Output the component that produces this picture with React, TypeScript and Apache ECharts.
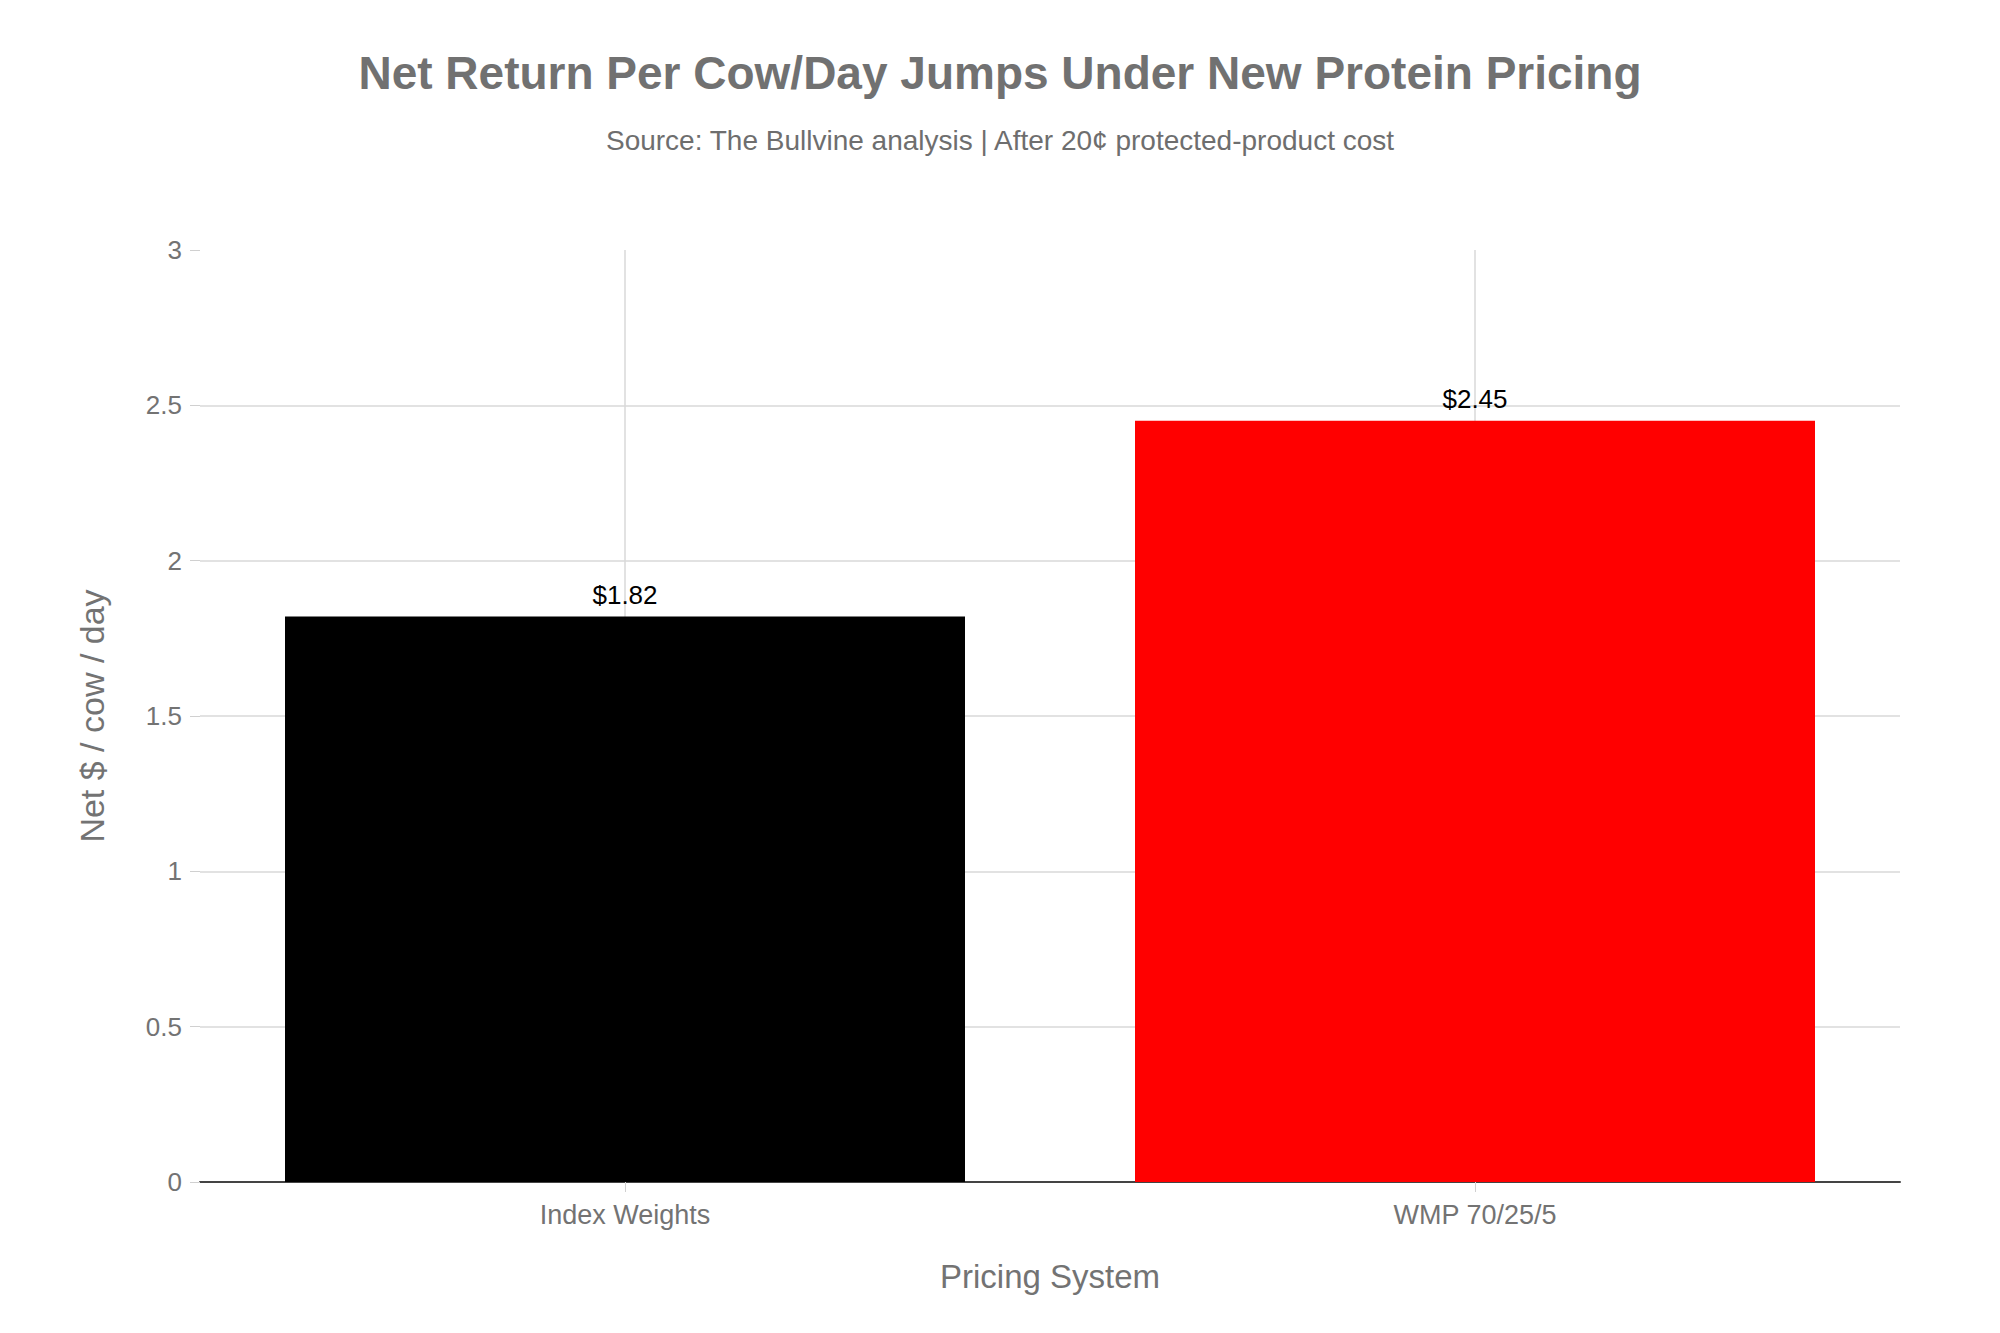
import React, { useEffect, useRef } from "react";
import * as echarts from "echarts";

const categories = ["Index Weights", "WMP 70/25/5"];
const values = [1.82, 2.45];
const barColors = ["#000000", "#ff0000"];
const valueLabels = ["$1.82", "$2.45"];

const FONT = "'Liberation Sans', Arial, Helvetica, sans-serif";
const GRID = "#d9d9d9";

export default function App() {
  const ref = useRef<HTMLDivElement>(null);
  useEffect(() => {
    if (!ref.current) return;
    const chart = echarts.init(ref.current, undefined, { renderer: "svg" });
    chart.setOption({
      animation: false,
      backgroundColor: "#ffffff",
      textStyle: { fontFamily: FONT },
      title: [
        {
          text: "Net Return Per Cow/Day Jumps Under New Protein Pricing",
          left: "center",
          top: 45,
          textStyle: { fontFamily: FONT, fontSize: 46, fontWeight: "bold", color: "#717171" },
        },
        {
          text: "Source: The Bullvine analysis | After 20¢ protected-product cost",
          left: "center",
          top: 121,
          textStyle: { fontFamily: FONT, fontSize: 28, fontWeight: "normal", color: "#6e6e6e" },
        },
      ],
      grid: { left: 200, right: 100, top: 250, bottom: 151, containLabel: false },
      xAxis: {
        type: "category",
        data: categories,
        name: "Pricing System",
        nameLocation: "middle",
        nameGap: 78,
        nameTextStyle: { fontFamily: FONT, fontSize: 33, color: "#737373" },
        axisLine: { show: true, lineStyle: { color: "#444444", width: 2 } },
        axisTick: { show: true, alignWithLabel: true, length: 10, lineStyle: { color: "#d0d0d0" } },
        axisLabel: { fontFamily: FONT, fontSize: 27, color: "#737373", margin: 19 },
        splitLine: { show: true, alignWithLabel: true, lineStyle: { color: GRID, width: 1.5 } },
      },
      yAxis: {
        type: "value",
        min: 0,
        max: 3,
        interval: 0.5,
        name: "Net $ / cow / day",
        nameLocation: "middle",
        nameGap: 91,
        nameRotate: 90,
        nameTextStyle: { fontFamily: FONT, fontSize: 34, color: "#737373" },
        axisLine: { show: false },
        axisTick: { show: true, length: 10, lineStyle: { color: "#d0d0d0" } },
        axisLabel: { fontFamily: FONT, fontSize: 26, color: "#737373", margin: 18 },
        splitLine: {
          show: true,
          lineStyle: {
            color: [GRID, GRID, GRID, GRID, GRID, GRID, "rgba(0,0,0,0)"],
            width: 1.5,
          },
        },
      },
      series: [
        {
          type: "bar",
          barCategoryGap: "20%",
          data: values.map((v, i) => ({
            value: v,
            itemStyle: { color: barColors[i] },
            label: { formatter: valueLabels[i] },
          })),
          label: {
            show: true,
            position: "top",
            distance: 9,
            fontFamily: FONT,
            fontSize: 26,
            color: "#000000",
          },
        },
      ],
    });
    return () => chart.dispose();
  }, []);
  return (
    <div
      ref={ref}
      style={{ position: "fixed", left: 0, top: 0, width: 2000, height: 1333 }}
    />
  );
}
